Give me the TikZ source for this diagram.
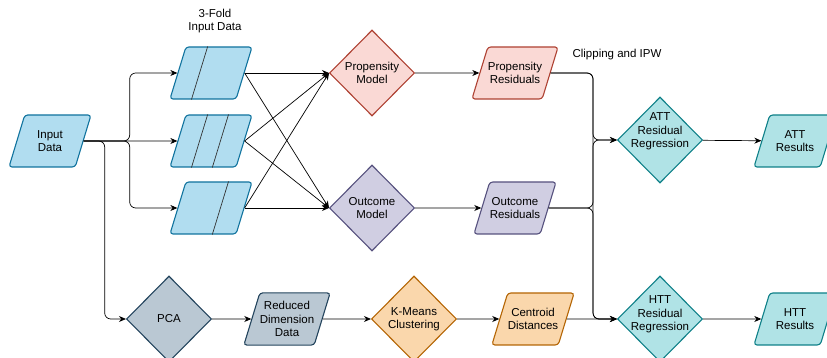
\documentclass[tikz,border=0pt]{standalone}
\usepackage{fontspec}
\setmainfont{Liberation Sans}
\usetikzlibrary{arrows.meta, positioning, shapes.geometric, calc}

\definecolor{blueFill}{HTML}{B1DDF0}
\definecolor{blueLine}{HTML}{10739E}
\definecolor{redFill}{HTML}{FAD9D5}
\definecolor{redLine}{HTML}{AE4132}
\definecolor{purpleFill}{HTML}{D0CEE2}
\definecolor{purpleLine}{HTML}{56517E}
\definecolor{tealFill}{HTML}{B0E3E6}
\definecolor{tealLine}{HTML}{0E8088}
\definecolor{grayFill}{HTML}{BAC8D3}
\definecolor{grayLine}{HTML}{23445D}
\definecolor{orangeFill}{HTML}{FAD7AC}
\definecolor{orangeLine}{HTML}{B46504}

\begin{document}
\begin{tikzpicture}[
    x=1pt, y=1pt,
    font=\fontsize{11.5}{13.5}\selectfont,
    % inner ysep picked per number of text lines so every box is 52pt high
    data/.style={trapezium, trapezium left angle=73, trapezium right angle=107, trapezium stretches body=true, draw, rounded corners=3pt, line width=1.1pt, align=center, minimum width=82pt, minimum height=52pt, inner xsep=0pt, inner ysep=#1},
    data/.default=15pt,
    model/.style={diamond, draw, line width=1.1pt, align=center, minimum width=85pt, minimum height=86pt, inner sep=-14pt},
    blueshape/.style={fill=blueFill, draw=blueLine},
    redshape/.style={fill=redFill, draw=redLine},
    purpleshape/.style={fill=purpleFill, draw=purpleLine},
    tealshape/.style={fill=tealFill, draw=tealLine},
    grayshape/.style={fill=grayFill, draw=grayLine},
    orangeshape/.style={fill=orangeFill, draw=orangeLine},
    arrow/.style={-{Stealth[length=7pt, width=6pt]}, line width=0.7pt, rounded corners=6pt},
    split/.style={line width=0.7pt, black!80}
]
\useasboundingbox (0,0) rectangle (827,358);

% input and the three folds
\node (in) [data, blueshape] at (50,217) {Input\\Data};
\node (f1) [data=26pt, blueshape] at (211,285) {};
\node (f2) [data=26pt, blueshape] at (211,217) {};
\node (f3) [data=26pt, blueshape] at (211,150) {};
\node (foldlabel) [align=center] at (215,337) {3-Fold\\Input Data};

\foreach \f/\t in {f1/0.33, f2/0.33, f2/0.64, f3/0.64}
    \draw [split] ($(\f.top left corner)!\t!(\f.top right corner)$) -- ($(\f.bottom left corner)!\t!(\f.bottom right corner)$);

% nuisance models
\node (pm) [model, redshape] at (372,285) {Propensity\\Model};
\node (om) [model, purpleshape] at (372,150) {Outcome\\Model};
\node (pres) [data, redshape] at (515,285) {Propensity\\Residuals};
\node (ores) [data, purpleshape] at (515,150) {Outcome\\Residuals};
\node (clip) at (617,303) {Clipping and IPW};

% effect estimates (extra text depth lifts the label a little)
\node (att) [model, tealshape, text depth=19pt] at (660,218) {ATT\\Residual\\Regression};
\node (attres) [data, tealshape] at (795,217) {ATT\\Results};

% clustering branch
\node (pca) [model, grayshape] at (169,39) {PCA};
\node (rdd) [data=8.4pt, grayshape] at (287,39) {Reduced\\Dimension\\Data};
\node (km) [model, orangeshape] at (414,39) {K-Means\\Clustering};
\node (cd) [data, orangeshape] at (533,39) {Centroid\\Distances};
\node (htt) [model, tealshape, text depth=11pt] at (660,39) {HTT\\Residual\\Regression};
\node (httres) [data, tealshape] at (795,39) {HTT\\Results};

\coordinate (bus) at (593,0);

\draw [arrow] (in.east) -- ++(46,0) |- (f1.west);
\draw [arrow] (in.east) -- (f2.west);
\draw [arrow] (in.east) -- ++(46,0) |- (f3.west);
\draw [arrow] (in.east) -- ++(21,0) |- (pca.west);

\foreach \f in {f1,f2,f3} {
    \draw [arrow] (\f.east) -- (pm.west);
    \draw [arrow] (\f.east) -- (om.west);
}

\draw [arrow] (pm) -- (pres);
\draw [arrow] (om) -- (ores);
\draw [arrow] (pres.east) -| (bus |- att.west) -- (att.west);
\draw [arrow] (ores.east) -| (bus |- att.west) -- (att.west);
\draw [arrow] (pres.east) -| (bus |- htt.west) -- (htt.west);
\draw [arrow] (ores.east) -| (bus |- htt.west) -- (htt.west);
\draw [arrow] (att) -- (attres);

\draw [arrow] (pca) -- (rdd);
\draw [arrow] (rdd) -- (km);
\draw [arrow] (km) -- (cd);
\draw [arrow] (cd) -- (htt);
\draw [arrow] (htt) -- (httres);

\end{tikzpicture}
\end{document}
